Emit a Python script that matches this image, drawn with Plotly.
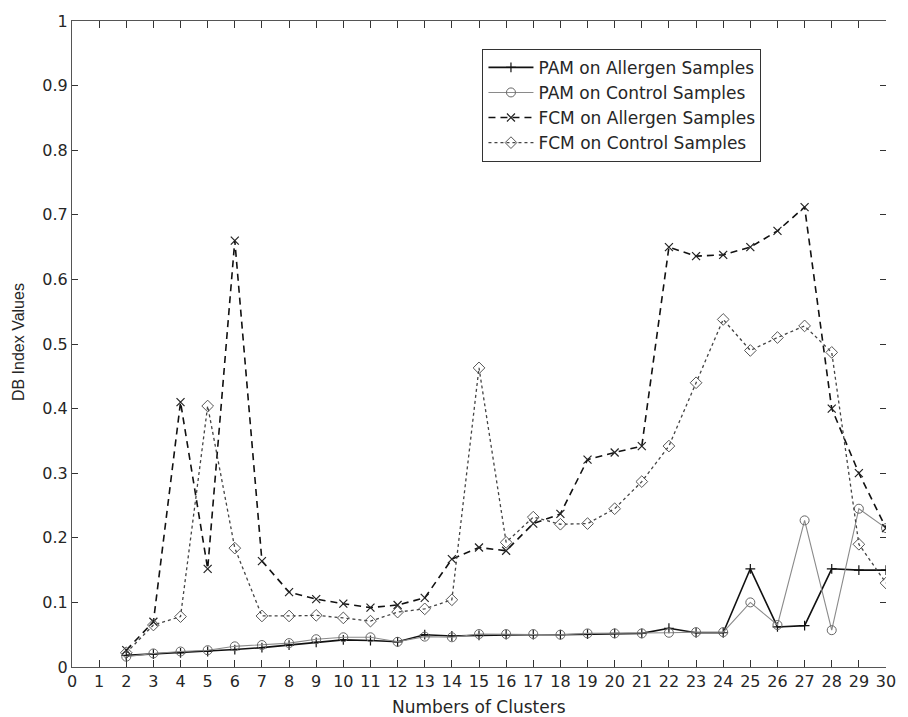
import plotly.graph_objects as go

clusters = list(range(2, 31))

pam_allergen = [0.018, 0.020, 0.022, 0.024, 0.027, 0.030, 0.034, 0.038, 0.042, 0.041,
                0.039, 0.050, 0.048, 0.049, 0.050, 0.050, 0.050, 0.051, 0.052, 0.052,
                0.060, 0.053, 0.053, 0.152, 0.062, 0.064, 0.152, 0.150, 0.150]

pam_control = [0.016, 0.021, 0.024, 0.026, 0.032, 0.034, 0.037, 0.043, 0.046, 0.046,
               0.039, 0.047, 0.046, 0.051, 0.051, 0.051, 0.050, 0.052, 0.052, 0.052,
               0.053, 0.054, 0.054, 0.100, 0.065, 0.227, 0.057, 0.245, 0.215]

fcm_allergen = [0.026, 0.070, 0.410, 0.152, 0.660, 0.164, 0.116, 0.105, 0.098, 0.092,
                0.096, 0.107, 0.167, 0.185, 0.180, 0.222, 0.237, 0.321, 0.332, 0.342,
                0.650, 0.636, 0.638, 0.650, 0.675, 0.712, 0.400, 0.300, 0.215]

fcm_control = [0.022, 0.065, 0.078, 0.404, 0.184, 0.079, 0.079, 0.080, 0.076, 0.071,
               0.085, 0.090, 0.104, 0.463, 0.193, 0.232, 0.221, 0.222, 0.245, 0.287,
               0.342, 0.440, 0.538, 0.490, 0.510, 0.528, 0.487, 0.190, 0.130]

series_names = ["PAM on Allergen Samples", "PAM on Control Samples",
                "FCM on Allergen Samples", "FCM on Control Samples"]

x_ticks = list(range(0, 31))
y_ticks = [round(i * 0.1, 1) for i in range(11)]

FONT = "DejaVu Sans, Arial, Helvetica, sans-serif"
FONT_V = "Liberation Sans, Arial, Helvetica, sans-serif"
TXT = "#262626"

fig = go.Figure()

fig.add_trace(go.Scatter(
    x=clusters, y=pam_allergen, name=series_names[0], mode="lines+markers",
    line=dict(color="#111111", width=1.6),
    marker=dict(symbol="cross-thin-open", size=7, color="#111111", line=dict(width=1.2, color="#111111")),
))
fig.add_trace(go.Scatter(
    x=clusters, y=pam_control, name=series_names[1], mode="lines+markers",
    line=dict(color="#8a8a8a", width=1.1),
    marker=dict(symbol="circle-open", size=9, color="#666666", line=dict(width=1, color="#666666")),
))
fig.add_trace(go.Scatter(
    x=clusters, y=fcm_allergen, name=series_names[2], mode="lines+markers",
    line=dict(color="#111111", width=1.6, dash="7px,5px"),
    marker=dict(symbol="x-thin-open", size=8, color="#222222", line=dict(width=1.2, color="#222222")),
))
fig.add_trace(go.Scatter(
    x=clusters, y=fcm_control, name=series_names[3], mode="lines+markers",
    line=dict(color="#444444", width=1.3, dash="dot"),
    marker=dict(symbol="diamond-open", size=9, color="#555555", line=dict(width=1, color="#555555")),
))

# invisible trace to carry the right-hand tick axis
fig.add_trace(go.Scatter(
    x=[0], y=[0], yaxis="y2", mode="markers", marker=dict(opacity=0),
    showlegend=False, hoverinfo="skip",
))

fig.update_layout(
    width=908, height=717,
    margin=dict(l=72, r=13, t=16, b=50),
    plot_bgcolor="white", paper_bgcolor="white",
    font=dict(family=FONT, size=16, color=TXT),
    showlegend=True,
    legend=dict(
        x=(487 - 72) / 823, y=(667 - 44) / 651, xanchor="left", yanchor="top",
        bordercolor="#333333", borderwidth=1, bgcolor="white",
        font=dict(family=FONT, size=17, color=TXT),
        tracegroupgap=0, itemwidth=45,
    ),
    xaxis=dict(
        range=[0, 30], tickmode="array", tickvals=x_ticks,
        ticktext=[str(v) for v in x_ticks],
        ticks="inside", ticklen=7, tickcolor="#333333", tickwidth=1,
        showline=True, linecolor="#555555", linewidth=1, mirror="ticks",
        showgrid=False, zeroline=False,
        tickfont=dict(family=FONT, size=16, color=TXT),
    ),
    yaxis=dict(
        range=[0, 1], tickmode="array", tickvals=y_ticks,
        ticktext=[("0" if v == 0 else ("1" if v == 1 else str(v))) for v in y_ticks],
        ticks="inside", ticklen=6, tickcolor="#333333", tickwidth=1,
        showline=True, linecolor="#555555", linewidth=1, mirror=False,
        showgrid=False, zeroline=False,
        tickfont=dict(family=FONT, size=16, color=TXT),
    ),
    yaxis2=dict(
        overlaying="y", side="right", range=[0, 1], tickmode="array", tickvals=y_ticks,
        ticks="inside", ticklen=6, tickcolor="#333333", tickwidth=1,
        showticklabels=False, showline=False, showgrid=False, zeroline=False,
    ),
    annotations=[
        dict(text="Numbers of Clusters", xref="paper", yref="paper",
             x=(484 - 72) / 823, y=(667 - 707) / 651, xanchor="center", yanchor="middle",
             showarrow=False, font=dict(family=FONT, size=17, color=TXT)),
        dict(text="DB Index Values", xref="paper", yref="paper",
             x=(18 - 72) / 823, y=(667 - 340) / 651, xanchor="center", yanchor="middle",
             textangle=-90, showarrow=False, font=dict(family=FONT_V, size=16, color=TXT)),
    ],
)

fig.write_html("out.html")
